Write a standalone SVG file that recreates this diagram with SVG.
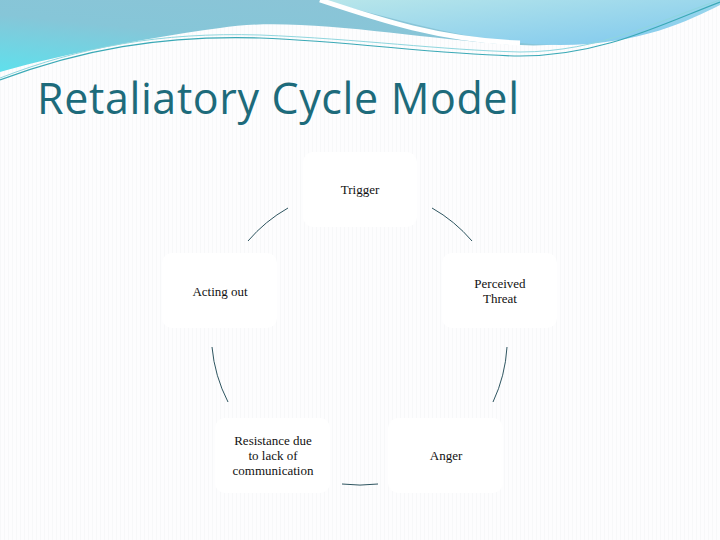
<svg xmlns="http://www.w3.org/2000/svg" width="720" height="540" viewBox="0 0 720 540">
<defs>
<linearGradient id="g1" x1="0" y1="1" x2="1" y2="0"><stop offset="0" stop-color="#5fe0ec"/><stop offset="0.4" stop-color="#86c6d8"/><stop offset="1" stop-color="#8ec3d6"/></linearGradient>
<linearGradient id="g2" x1="0" y1="0" x2="1" y2="1"><stop offset="0" stop-color="#b8e6ea"/><stop offset="1" stop-color="#7ec8ee"/></linearGradient>
<pattern id="grid" width="4" height="4" patternUnits="userSpaceOnUse"><rect width="4" height="4" fill="#fdfdfe"/><rect width="1" height="4" fill="#f7f8f9"/></pattern>
<style>
.n{fill:#fff}
.t{font-family:"Liberation Serif",serif;font-size:13px;fill:#111;text-anchor:middle}
.c{fill:none;stroke:#2e5560;stroke-width:1}
</style>
</defs>
<rect width="720" height="540" fill="url(#grid)"/>
<path d="M0,0 H720 V0 C650,10 600,50 520,45 C420,40 300,15 220,28 C130,40 40,60 0,72 Z" fill="url(#g1)"/>
<path d="M320,0 H720 V5 C690,20 640,45 560,45 C480,45 400,20 320,0 Z" fill="url(#g2)"/>
<path d="M320,0 C380,20 440,40 520,43" fill="none" stroke="#fff" stroke-width="5"/>
<path d="M0,80 C80,50 160,35 260,38 C360,42 440,55 520,56 C600,56 660,25 720,2" fill="none" stroke="#3aa9b6" stroke-width="1.2"/>
<path d="M0,78 C80,47 160,32 260,35 C360,39 440,50 520,52 C600,52 660,20 720,0" fill="none" stroke="#8fd6de" stroke-width="1"/>
<text x="37" y="114" font-family="'Open Sans', sans-serif" font-size="43" fill="#1d6b7b" textLength="482">Retaliatory Cycle Model</text>
<g id="connectors">
<path class="c" d="M248,241 A150,150 0 0 1 288,208"/>
<path class="c" d="M432,208 A150,150 0 0 1 472,241"/>
<path class="c" d="M507,347 A150,150 0 0 1 493,402"/>
<path class="c" d="M378,484 A150,150 0 0 1 342,484"/>
<path class="c" d="M228,402 A150,150 0 0 1 212,347"/>
</g>
<g id="trigger"><rect class="n" x="303" y="152" width="114" height="75" rx="10"/><text class="t" x="360" y="194">Trigger</text></g>
<g id="perceived"><rect class="n" x="442" y="253" width="115" height="75" rx="10"/><text class="t" x="500" y="288">Perceived</text><text class="t" x="500" y="303">Threat</text></g>
<g id="anger"><rect class="n" x="388" y="418" width="115" height="75" rx="10"/><text class="t" x="446" y="460">Anger</text></g>
<g id="resistance"><rect class="n" x="215" y="418" width="115" height="75" rx="10"/><text class="t" x="273" y="445">Resistance due</text><text class="t" x="273" y="460">to lack of</text><text class="t" x="273" y="475">communication</text></g>
<g id="acting"><rect class="n" x="162" y="253" width="115" height="75" rx="10"/><text class="t" x="220" y="296">Acting out</text></g>
</svg>
